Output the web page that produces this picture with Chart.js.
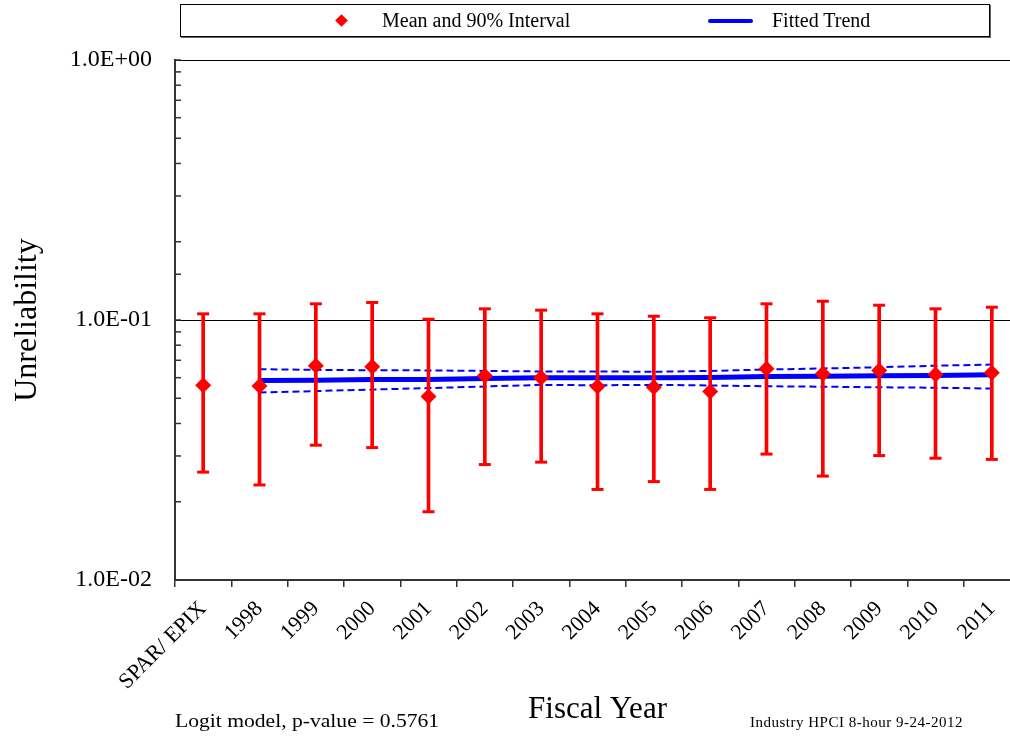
<!DOCTYPE html>
<html>
<head>
<meta charset="utf-8">
<script src="https://cdn.jsdelivr.net/npm/chart.js@4.4.1/dist/chart.umd.min.js"></script>
<style>
  body {
    margin: 0;
    background: #fff;
    overflow: hidden;
    width: 1010px;
    height: 740px;
    font-family: 'Liberation Serif', 'Times New Roman', serif;
  }
  #chart {
    position: absolute;
    left: 0;
    top: 0;
  }
  #legend {
    position: absolute;
    left: 180px;
    top: 4px;
    width: 808px;
    height: 31px;
    border: 1px solid #000;
    box-shadow: 1px 1px 0 #666;
    background: #fff;
  }
  .leg-diamond {
    position: absolute;
    left: 156px;
    top: 11px;
    width: 9px;
    height: 9px;
    background: #ff0000;
    transform: rotate(45deg);
  }
  .leg-line {
    position: absolute;
    left: 527px;
    top: 14px;
    width: 45px;
    height: 4px;
    background: #0000ff;
    border-radius: 2px;
  }
  .leg-text {
    position: absolute;
    top: 4px;
    font-size: 20px;
    color: #000;
    white-space: nowrap;
  }
  .note {
    position: absolute;
    color: #000;
    white-space: nowrap;
    transform-origin: left top;
  }
</style>
</head>
<body>
<canvas id="chart" width="1029" height="740"></canvas>
<div id="legend">
  <div class="leg-diamond"></div>
  <div class="leg-text" style="left:201px">Mean and 90% Interval</div>
  <div class="leg-line"></div>
  <div class="leg-text" style="left:591px">Fitted Trend</div>
</div>
<div class="note" style="left:175px; top:711px; font-size:18px; transform:scaleX(1.2);">Logit model, p-value = 0.5761</div>
<div class="note" style="left:750px; top:714px; font-size:15px; letter-spacing:0.5px;">Industry HPCI 8-hour 9-24-2012</div>

<script>
const categories = [
  'SPAR/ EPIX', '1998', '1999', '2000', '2001', '2002', '2003', '2004',
  '2005', '2006', '2007', '2008', '2009', '2010', '2011',
];

// mean and 90% interval
const meanValues = [
  0.0561, 0.0558, 0.0667, 0.0661, 0.0508, 0.0610, 0.0599, 0.0555,
  0.0551, 0.0531, 0.0649, 0.0621, 0.0640, 0.0617, 0.0627,
];

const lowerValues = [
  0.0260, 0.0232, 0.0330, 0.0323, 0.0183, 0.0278, 0.0284, 0.0223,
  0.0239, 0.0223, 0.0305, 0.0251, 0.0301, 0.0294, 0.0291,
];

const upperValues = [
  0.1056, 0.1056, 0.1154, 0.1168, 0.1007, 0.1104, 0.1091, 0.1056,
  0.1034, 0.1020, 0.1154, 0.1181, 0.1140, 0.1104, 0.1120,
];

// fitted trend and its band (no value for SPAR/EPIX)
const trendValues = [
  null, 0.0585, 0.0587, 0.0590, 0.0590, 0.0596, 0.0600, 0.0599,
  0.0600, 0.0601, 0.0606, 0.0607, 0.0610, 0.0612, 0.0616,
];

const trendUpper = [
  null, 0.0647, 0.0643, 0.0641, 0.0640, 0.0637, 0.0634, 0.0634,
  0.0632, 0.0637, 0.0645, 0.0651, 0.0658, 0.0667, 0.0674,
];

const trendLower = [
  null, 0.0526, 0.0533, 0.0540, 0.0547, 0.0555, 0.0563, 0.0561,
  0.0563, 0.0560, 0.0556, 0.0554, 0.0551, 0.0549, 0.0545,
];

const yMajorTicks = [0.01, 0.1, 1];

const RED = '#ff0000';
const BLUE = '#0000ff';
const FONT = "'Liberation Serif', 'Times New Roman', serif";

const isMajor = v =>
  yMajorTicks.some(m => Math.abs(Math.log10(v) - Math.log10(m)) < 1e-6);

const sciLabel = v => {
  const exp = Math.round(Math.log10(v));
  const sign = exp >= 0 ? '+' : '-';
  return `1.0E${sign}${String(Math.abs(exp)).padStart(2, '0')}`;
};

// short inward tick marks on the log axis
const minorTicks = {
  id: 'minorTicks',
  afterDraw(chart) {
    const y = chart.scales.y;
    const left = chart.chartArea.left;
    const ctx = chart.ctx;
    ctx.save();
    ctx.strokeStyle = '#333';
    ctx.lineWidth = 1.5;
    y.ticks.forEach(t => {
      const py = y.getPixelForValue(t.value);
      ctx.beginPath();
      ctx.moveTo(left, py);
      ctx.lineTo(left + 6, py);
      ctx.stroke();
    });
    ctx.restore();
  },
};

new Chart(
  document.getElementById('chart'),
  {
    data: {
      labels: categories,
      datasets: [
        {
          type: 'line',
          label: 'Mean',
          data: meanValues,
          showLine: false,
          pointStyle: 'rectRot',
          pointRadius: 8,
          pointBackgroundColor: RED,
          pointBorderColor: RED,
          pointBorderWidth: 0,
          order: 0,
        },
        {
          type: 'line',
          label: 'Upper cap',
          data: upperValues,
          showLine: false,
          pointStyle: 'line',
          pointRadius: 6,
          pointBorderColor: RED,
          pointBorderWidth: 3,
          order: 1,
        },
        {
          type: 'line',
          label: 'Lower cap',
          data: lowerValues,
          showLine: false,
          pointStyle: 'line',
          pointRadius: 6,
          pointBorderColor: RED,
          pointBorderWidth: 3,
          order: 1,
        },
        {
          type: 'bar',
          label: '90% Interval',
          data: lowerValues.map((v, i) => [v, upperValues[i]]),
          backgroundColor: RED,
          borderWidth: 0,
          barThickness: 3,
          order: 2,
        },
        {
          type: 'line',
          label: 'Fitted Trend',
          data: trendValues,
          borderColor: BLUE,
          borderWidth: 5,
          pointRadius: 0,
          tension: 0,
          order: 3,
        },
        {
          type: 'line',
          label: 'Upper band',
          data: trendUpper,
          borderColor: BLUE,
          borderWidth: 2,
          borderDash: [7, 4],
          pointRadius: 0,
          tension: 0,
          order: 4,
        },
        {
          type: 'line',
          label: 'Lower band',
          data: trendLower,
          borderColor: BLUE,
          borderWidth: 2,
          borderDash: [7, 4],
          pointRadius: 0,
          tension: 0,
          order: 4,
        },
      ],
    },

    options: {
      responsive: false,
      animation: false,
      events: [],

      layout: {
        padding: { top: 60, right: 3, bottom: 0, left: 0 },
      },

      plugins: {
        legend: { display: false },
        tooltip: { enabled: false },
      },

      scales: {
        x: {
          type: 'category',
          offset: true,
          afterFit: scale => { scale.height = 160; },
          grid: {
            offset: true,
            drawOnChartArea: false,
            drawTicks: true,
            tickLength: 7,
            color: '#333',
            lineWidth: 1.5,
          },
          border: { color: '#333', width: 2 },
          ticks: {
            color: '#000',
            font: { family: FONT, size: 22 },
            minRotation: 45,
            maxRotation: 45,
            autoSkip: false,
            padding: 9,
          },
          title: {
            display: true,
            text: 'Fiscal Year',
            color: '#000',
            font: { family: FONT, size: 31 },
            padding: { top: 0, bottom: 12 },
          },
        },

        y: {
          type: 'logarithmic',
          min: 0.01,
          max: 1,
          afterFit: scale => { scale.width = 175; },
          grid: {
            drawTicks: false,
            color: ctx =>
              ctx.tick && isMajor(ctx.tick.value) && ctx.tick.value > 0.011
                ? '#000'
                : 'transparent',
            lineWidth: 1,
          },
          border: { color: '#333', width: 2 },
          ticks: {
            autoSkip: false,
            color: '#000',
            font: { family: FONT, size: 24 },
            padding: 23,
            callback: v => (isMajor(v) ? sciLabel(v) : ''),
          },
          title: {
            display: true,
            text: 'Unreliability',
            color: '#000',
            font: { family: FONT, size: 32 },
            padding: { top: 8, bottom: 0 },
          },
        },
      },
    },

    plugins: [minorTicks],
  }
);
</script>
</body>
</html>
